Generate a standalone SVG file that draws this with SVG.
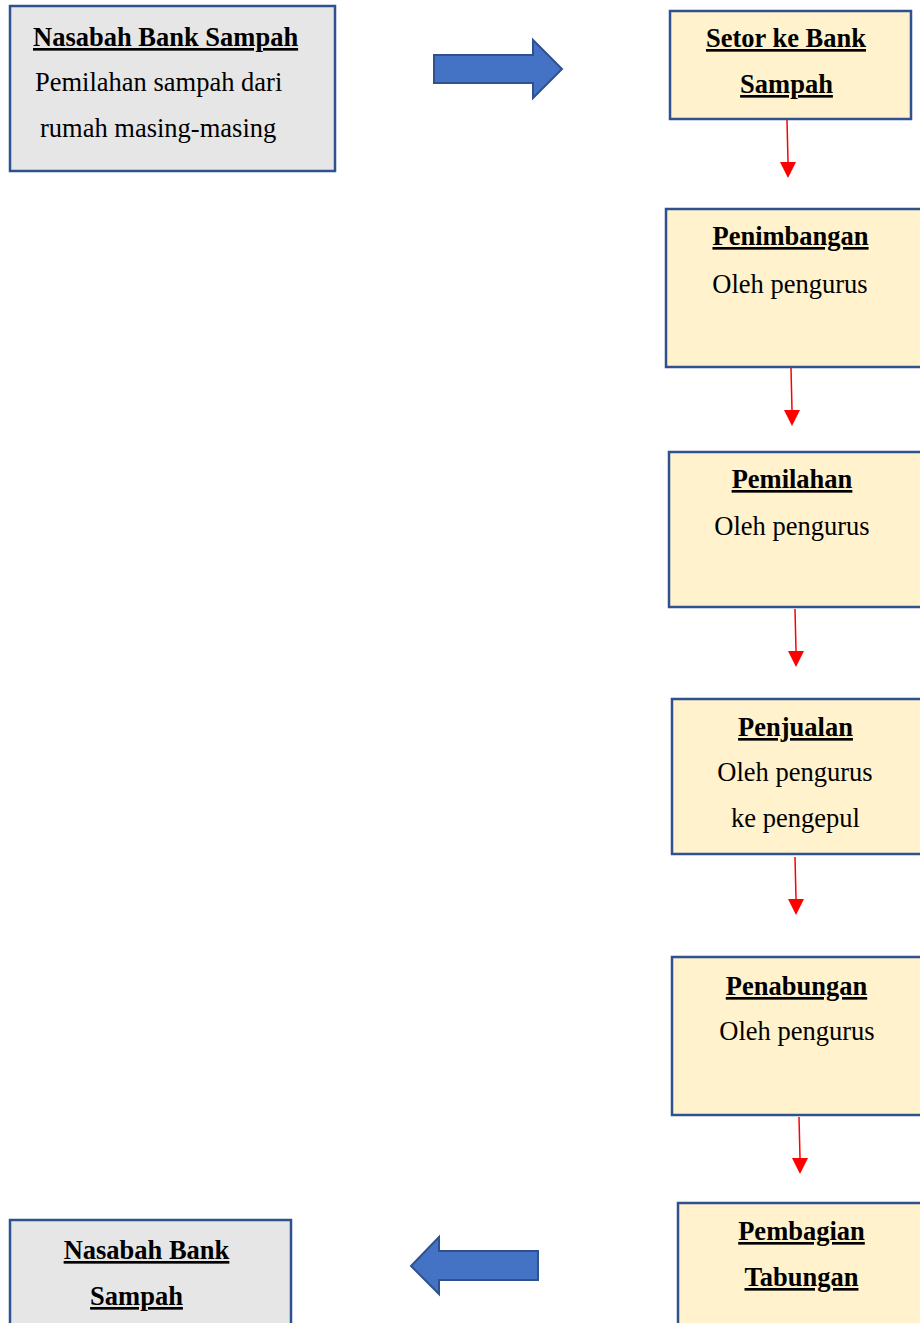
<svg xmlns="http://www.w3.org/2000/svg" width="920" height="1323" viewBox="0 0 920 1323">
<style>
.gbox{fill:#e7e6e6;stroke:#2f528f;stroke-width:2.5}
.ybox{fill:#fff2cc;stroke:#2f528f;stroke-width:2.5}
.t{font-family:"Liberation Serif","Times New Roman",serif;font-size:26.5px;fill:#000}
.b{font-weight:bold;text-decoration:underline;text-decoration-thickness:2.5px;text-underline-offset:3px;text-decoration-skip-ink:none}
.m{text-anchor:middle}
.big{fill:#4472c4;stroke:#2f528f;stroke-width:2}
.red{stroke:#ff0000;stroke-width:1.5;fill:none}
.rh{fill:#ff0000}
</style>
<rect width="920" height="1323" fill="#ffffff"/>
<g id="connectors">
<path class="big" d="M434,55 L533,55 L533,40 L562,69 L533,98 L533,83 L434,83 Z"/>
<path class="big" d="M538,1251 L439,1251 L439,1237 L411,1266 L439,1294 L439,1280 L538,1280 Z"/>
<line class="red" x1="787" y1="120" x2="788" y2="162"/><path class="rh" d="M780,162 L796,162 L788,178 Z"/>
<line class="red" x1="791" y1="368" x2="792" y2="410"/><path class="rh" d="M784,410 L800,410 L792,426 Z"/>
<line class="red" x1="795" y1="609" x2="796" y2="651"/><path class="rh" d="M788,651 L804,651 L796,667 Z"/>
<line class="red" x1="795" y1="857" x2="796" y2="899"/><path class="rh" d="M788,899 L804,899 L796,915 Z"/>
<line class="red" x1="799" y1="1117" x2="800" y2="1158"/><path class="rh" d="M792,1158 L808,1158 L800,1174 Z"/>
</g>
<g id="nasabah-top">
<rect class="gbox" x="10" y="6" width="325" height="165"/>
<text class="t b" x="33" y="46">Nasabah Bank Sampah</text>
<text class="t" x="35" y="91">Pemilahan sampah dari</text>
<text class="t" x="40" y="137">rumah masing-masing</text>
</g>
<g id="setor">
<rect class="ybox" x="670" y="11" width="241" height="108"/>
<text class="t b m" x="786" y="47">Setor ke Bank</text>
<text class="t b m" x="786.5" y="93">Sampah</text>
</g>
<g id="penimbangan">
<rect class="ybox" x="666" y="209" width="260" height="158"/>
<text class="t b m" x="790.5" y="245">Penimbangan</text>
<text class="t m" x="790" y="293">Oleh pengurus</text>
</g>
<g id="pemilahan">
<rect class="ybox" x="669" y="452" width="260" height="155"/>
<text class="t b m" x="792" y="488">Pemilahan</text>
<text class="t m" x="792" y="535">Oleh pengurus</text>
</g>
<g id="penjualan">
<rect class="ybox" x="672" y="699" width="260" height="155"/>
<text class="t b m" x="795.5" y="736">Penjualan</text>
<text class="t m" x="795" y="781">Oleh pengurus</text>
<text class="t m" x="795.5" y="827">ke pengepul</text>
</g>
<g id="penabungan">
<rect class="ybox" x="672" y="957" width="260" height="158"/>
<text class="t b m" x="796.5" y="995">Penabungan</text>
<text class="t m" x="797" y="1040">Oleh pengurus</text>
</g>
<g id="pembagian">
<rect class="ybox" x="678" y="1203" width="260" height="140"/>
<text class="t b m" x="801.5" y="1240">Pembagian</text>
<text class="t b m" x="801.5" y="1286">Tabungan</text>
</g>
<g id="nasabah-bottom">
<rect class="gbox" x="10" y="1220" width="281" height="120"/>
<text class="t b m" x="146.5" y="1259">Nasabah Bank</text>
<text class="t b m" x="136.5" y="1305">Sampah</text>
</g>
</svg>
